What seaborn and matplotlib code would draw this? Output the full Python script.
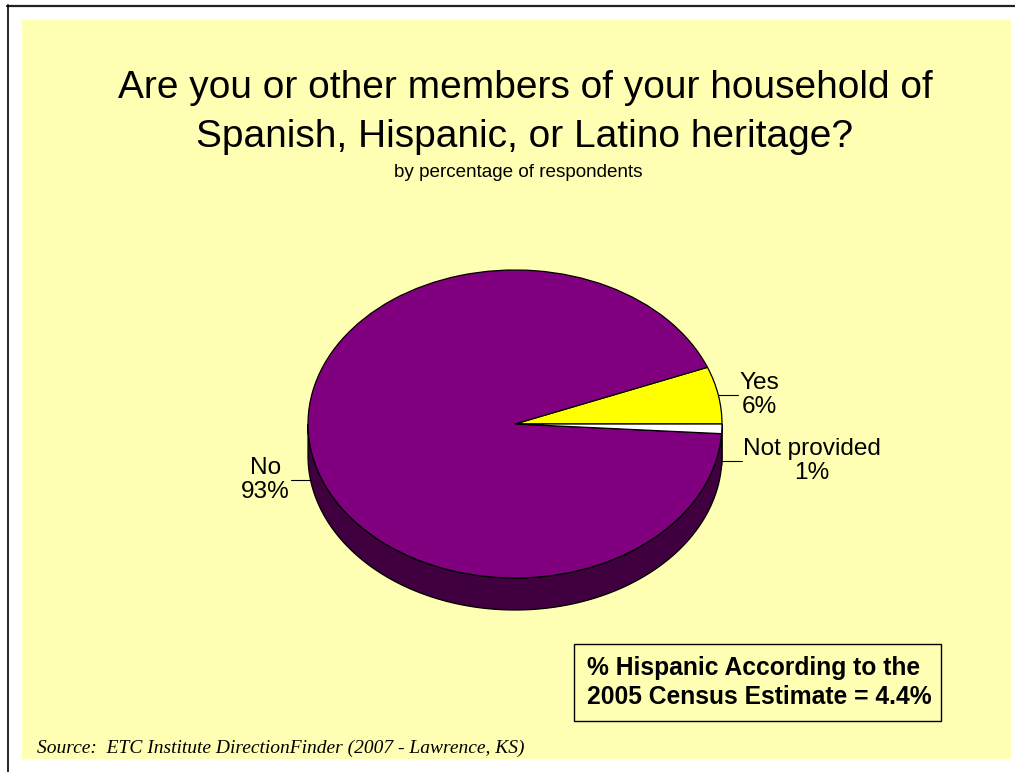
import numpy as np
import matplotlib
from matplotlib import pyplot as plt
from matplotlib.patches import Rectangle, Polygon
from matplotlib.lines import Line2D
import seaborn as sns

sns.set_style('white')
matplotlib.rcParams['font.family'] = ['Liberation Sans', 'DejaVu Sans']
matplotlib.rcParams['text.color'] = 'black'

labels = ['Yes', 'No', 'Not provided']
values = [6, 93, 1]
colors = ['#FFFF00', '#800080', '#FFFFFF']
title_lines = ['Are you or other members of your household of',
               'Spanish, Hispanic, or Latino heritage?']
subtitle = 'by percentage of respondents'
note = '% Hispanic According to the\n2005 Census Estimate = 4.4%'
source = 'Source:  ETC Institute DirectionFinder (2007 - Lawrence, KS)'

W, H = 1015, 772
bg = '#FFFFB3'


def fx(x):
    return x / W


def fy(y):
    return 1 - y / H


fig = plt.figure(figsize=(W / 100, H / 100), dpi=100)
fig.patch.set_facecolor('white')

# slide frame
fig.add_artist(Line2D([fx(7), fx(1015)], [fy(5.5), fy(5.5)], color='#222222', lw=1.6))
fig.add_artist(Line2D([fx(7.5), fx(7.5)], [fy(5), fy(772)], color='black', lw=1.2))
fig.add_artist(Rectangle((fx(22), fy(759)), fx(1011) - fx(22), fy(20) - fy(759),
                         transform=fig.transFigure, facecolor=bg, edgecolor='none', zorder=0))

# pie geometry (pixels)
cx, cy, rx, ry, depth = 515, 424, 207, 154, 32
d = depth / ry
xlo, xhi, ylo, yhi = -1.02, 1.02, -1.0 - d - 0.05, 1.02
ax = fig.add_axes([fx(cx + rx * xlo), fy(cy - ry * ylo), (xhi - xlo) * rx / W, (yhi - ylo) * ry / H])
ax.patch.set_alpha(0)

wedges, _ = ax.pie(values, colors=colors, startangle=0, counterclock=True,
                   wedgeprops=dict(edgecolor='black', linewidth=0.9, zorder=3))
ax.set_aspect('auto')
ax.set_xlim(xlo, xhi)
ax.set_ylim(ylo, yhi)
ax.axis('off')

# 3D side of the pie
for w, c in zip(wedges, colors):
    a0, a1 = max(w.theta1, 180), min(w.theta2, 360)
    if a1 <= a0:
        continue
    t = np.radians(np.linspace(a0, a1, 200))
    top = np.column_stack([np.cos(t), np.sin(t)])
    bot = np.column_stack([np.cos(t), np.sin(t) - d])[::-1]
    dark = tuple(0.5 * v for v in matplotlib.colors.to_rgb(c))
    ax.add_patch(Polygon(np.vstack([top, bot]), closed=True, facecolor=dark,
                         edgecolor='black', linewidth=0.9, zorder=2))

# labels with leader lines
lead = 20 / rx
for w, lab, v in zip(wedges, labels, values):
    m = np.radians((w.theta1 + w.theta2) / 2)
    x0, y0 = np.cos(m), np.sin(m)
    if y0 < 0:
        y0 -= d
    side = 1 if x0 > 0 else -1
    x1 = x0 + side * lead
    ax.plot([x0, x1], [y0, y0], color='black', lw=0.8, clip_on=False, zorder=4)
    ax.annotate(f'{lab}\n{v}%', xy=(x1, y0), xytext=(side * 1, 0), textcoords='offset pixels',
                ha='left' if side > 0 else 'right', va='center', multialignment='center',
                fontsize=17.6, linespacing=1.15, annotation_clip=False)

# titles
fig.text(fx(525), fy(98), title_lines[0], ha='center', va='baseline', fontsize=28)
fig.text(fx(525), fy(147), title_lines[1], ha='center', va='baseline', fontsize=28)
fig.text(fx(518), fy(177), subtitle, ha='center', va='baseline', fontsize=13.6)

# census note box
fig.add_artist(Rectangle((fx(574), fy(721)), fx(941) - fx(574), fy(644) - fy(721),
                         transform=fig.transFigure, facecolor=bg, edgecolor='black', lw=1.0))
fig.text(fx(587), fy(682.5), note, ha='left', va='center', fontsize=17.7, fontweight='bold',
         linespacing=1.3)

fig.text(fx(37), fy(753), source, ha='left', va='baseline', fontsize=14,
         family=['Liberation Serif', 'DejaVu Serif'], style='italic')

plt.savefig('out.png', dpi=100, facecolor=fig.get_facecolor())
